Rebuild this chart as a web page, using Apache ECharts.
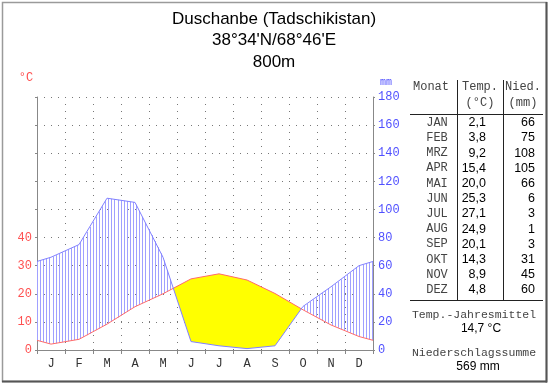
<!DOCTYPE html>
<html>
<head>
<meta charset="utf-8">
<script src="https://cdn.jsdelivr.net/npm/echarts@6/dist/echarts.min.js"></script>
<style>
html,body{margin:0;padding:0;background:#fff;}
#c{width:550px;height:384px;}
</style>
</head>
<body>
<div id="c"></div>
<script>
// ---- data ----
var titleLines = ['Duschanbe (Tadschikistan)', "38°34'N/68°46'E", '800m'];
var monthLetters = ['J','F','M','A','M','J','J','A','S','O','N','D'];
var monthNames = ['JAN','FEB','MRZ','APR','MAI','JUN','JUL','AUG','SEP','OKT','NOV','DEZ'];
var temp = [2.1, 3.8, 9.2, 15.4, 20.0, 25.3, 27.1, 24.9, 20.1, 14.3, 8.9, 4.8];
var precip = [66, 75, 108, 105, 66, 6, 3, 1, 3, 31, 45, 60];
var tempLabels = ['2,1','3,8','9,2','15,4','20,0','25,3','27,1','24,9','20,1','14,3','8,9','4,8'];
var meanTempText = '14,7 °C';
var sumPrecipText = '569 mm';

// ---- derived series: month centres plus year-wrap edge values ----
var tEdge = (temp[11] + temp[0]) / 2;
var pEdge = (precip[11] + precip[0]) / 2;
var tempPts = [[0, tEdge]];
var precPts = [[0, pEdge]];
for (var i = 0; i < 12; i++) {
  tempPts.push([i + 0.5, temp[i]]);
  precPts.push([i + 0.5, precip[i]]);
}
tempPts.push([12, tEdge]);
precPts.push([12, pEdge]);

var MONO = 'Liberation Mono';
var SANS = 'Liberation Sans';

function renderFill(params, api) {
  // temperature drawn on the mm axis with 10°C = 20mm (axes 0-90 / 0-180)
  var T = tempPts.map(function (p) { return api.coord([p[0], p[1] * 2]); });
  var P = precPts.map(function (p) { return api.coord([p[0], p[1]]); });
  var pts = [];
  for (var k = 0; k < T.length; k++) {
    pts.push({x: T[k][0], t: T[k][1], p: P[k][1]});
    if (k < T.length - 1) {
      var d0 = T[k][1] - P[k][1], d1 = T[k + 1][1] - P[k + 1][1];
      if (d0 * d1 < 0) {
        var f = d0 / (d0 - d1);
        var cx = T[k][0] + f * (T[k + 1][0] - T[k][0]);
        var cy = T[k][1] + f * (T[k + 1][1] - T[k][1]);
        pts.push({x: cx, t: cy, p: cy});
      }
    }
  }
  var children = [];
  var run = [];
  function flush() {
    if (run.length > 1) {
      var poly = run.map(function (q) { return [q.x, q.t]; });
      for (var j = run.length - 1; j >= 0; j--) poly.push([run[j].x, run[j].p]);
      children.push({type: 'polygon', shape: {points: poly}, style: {fill: '#ffff00', stroke: null}});
    }
    run = [];
  }
  for (var m = 0; m < pts.length; m++) {
    var q = pts[m];
    if (q.t <= q.p + 0.001) {
      run.push(q);
    } else {
      flush();
    }
  }
  flush();
  var x0 = T[0][0], x1 = T[T.length - 1][0];
  function interp(arr, x) {
    for (var s = 0; s < arr.length - 1; s++) {
      if (x >= arr[s][0] && x <= arr[s + 1][0]) {
        var f = (x - arr[s][0]) / (arr[s + 1][0] - arr[s][0] || 1);
        return arr[s][1] + f * (arr[s + 1][1] - arr[s][1]);
      }
    }
    return arr[arr.length - 1][1];
  }
  for (var x = x0; x <= x1 + 0.01; x += 3.1) {
    var yt = interp(T, x), yp = interp(P, x);
    if (yp < yt - 0.5) {
      var xx = Math.round(x) + 0.5;
      children.push({type: 'line', shape: {x1: xx, y1: yp, x2: xx, y2: yt},
        style: {stroke: '#a0a0ff', lineWidth: 1}});
    }
  }
  return {type: 'group', children: children};
}

var graphics = [
  {type: 'rect', shape: {x: 2.5, y: 2.5, width: 544, height: 379}, style: {fill: null, stroke: '#9a9a9a', lineWidth: 1.5}, silent: true},
  {type: 'line', shape: {x1: 546.5, y1: 2, x2: 546.5, y2: 382.5}, style: {stroke: '#555', lineWidth: 2}},
  {type: 'line', shape: {x1: 2, y1: 381.5, x2: 547, y2: 381.5}, style: {stroke: '#555', lineWidth: 2}},
  {type: 'text', x: 26, y: 78, style: {text: '°C', fill: '#ff5050', font: '12px ' + MONO, textAlign: 'center', textVerticalAlign: 'middle'}},
  {type: 'text', x: 386, y: 82, style: {text: 'mm', fill: '#5050ff', font: '10px ' + MONO, textAlign: 'center', textVerticalAlign: 'middle'}},
  {type: 'line', shape: {x1: 457.5, y1: 80, x2: 457.5, y2: 301}, style: {stroke: '#222', lineWidth: 1}},
  {type: 'line', shape: {x1: 503.5, y1: 80, x2: 503.5, y2: 301}, style: {stroke: '#222', lineWidth: 1}},
  {type: 'line', shape: {x1: 410, y1: 114.5, x2: 543, y2: 114.5}, style: {stroke: '#222', lineWidth: 1}},
  {type: 'line', shape: {x1: 410, y1: 300.5, x2: 543, y2: 300.5}, style: {stroke: '#222', lineWidth: 1}},
  {type: 'text', x: 431, y: 87, style: {text: 'Monat', fill: '#444', font: '12px ' + MONO, textAlign: 'center', textVerticalAlign: 'middle'}},
  {type: 'text', x: 480, y: 87, style: {text: 'Temp.', fill: '#444', font: '12px ' + MONO, textAlign: 'center', textVerticalAlign: 'middle'}},
  {type: 'text', x: 480, y: 103, style: {text: '(°C)', fill: '#444', font: '12px ' + MONO, textAlign: 'center', textVerticalAlign: 'middle'}},
  {type: 'text', x: 523, y: 87, style: {text: 'Nied.', fill: '#444', font: '12px ' + MONO, textAlign: 'center', textVerticalAlign: 'middle'}},
  {type: 'text', x: 523, y: 103, style: {text: '(mm)', fill: '#444', font: '12px ' + MONO, textAlign: 'center', textVerticalAlign: 'middle'}},
  {type: 'text', x: 474, y: 315, style: {text: 'Temp.-Jahresmittel', fill: '#444', font: '11.5px ' + MONO, textAlign: 'center', textVerticalAlign: 'middle'}},
  {type: 'text', x: 481, y: 329, style: {text: meanTempText, fill: '#000', font: '12px ' + SANS, textAlign: 'center', textVerticalAlign: 'middle'}},
  {type: 'text', x: 474, y: 353, style: {text: 'Niederschlagssumme', fill: '#444', font: '11.5px ' + MONO, textAlign: 'center', textVerticalAlign: 'middle'}},
  {type: 'text', x: 478, y: 367, style: {text: sumPrecipText, fill: '#000', font: '12px ' + SANS, textAlign: 'center', textVerticalAlign: 'middle'}}
];
titleLines.forEach(function (t, i) {
  graphics.push({type: 'text', x: 274, y: 19 + i * 21.7, style: {text: t, fill: '#000', font: '17px ' + SANS, textAlign: 'center', textVerticalAlign: 'middle'}});
});
for (var r = 0; r < 12; r++) {
  var yy = 122.7 + r * 15.2;
  graphics.push({type: 'text', x: 437, y: yy, style: {text: monthNames[r], fill: '#444', font: '12px ' + MONO, textAlign: 'center', textVerticalAlign: 'middle'}});
  graphics.push({type: 'text', x: 486, y: yy, style: {text: tempLabels[r], fill: '#000', font: '12.5px ' + SANS, textAlign: 'right', textVerticalAlign: 'middle'}});
  graphics.push({type: 'text', x: 535, y: yy, style: {text: String(precip[r]), fill: '#000', font: '12.5px ' + SANS, textAlign: 'right', textVerticalAlign: 'middle'}});
}

var dotted = {color: '#777', width: 1, type: [1, 6]};
var chart = echarts.init(document.getElementById('c'), null, {renderer: 'canvas'});
chart.setOption({
  backgroundColor: '#fff',
  animation: false,
  grid: {left: 37, right: 177, top: 97, bottom: 34, containLabel: false},
  xAxis: [
    {type: 'category', data: monthLetters, boundaryGap: true,
      axisLine: {show: true, lineStyle: {color: '#888'}},
      axisTick: {show: true, length: 4, lineStyle: {color: '#888'}},
      axisLabel: {color: '#333', fontFamily: MONO, fontSize: 12, margin: 8},
      splitLine: {show: true, lineStyle: dotted}},
    {type: 'value', min: 0, max: 12, show: false}
  ],
  yAxis: [
    {type: 'value', min: 0, max: 90, interval: 10, position: 'left',
      axisLine: {show: true, lineStyle: {color: '#888'}},
      axisTick: {show: true, length: 2, lineStyle: {color: '#888'}},
      axisLabel: {color: '#ff5050', fontFamily: MONO, fontSize: 12, margin: 5,
        formatter: function (v) { return v <= 40 ? String(v) : ''; }},
      splitLine: {show: false}},
    {type: 'value', min: 0, max: 180, interval: 20, position: 'right',
      axisLine: {show: true, lineStyle: {color: '#888'}},
      axisTick: {show: true, length: 2, lineStyle: {color: '#888'}},
      axisLabel: {color: '#5050ff', fontFamily: MONO, fontSize: 12, margin: 5},
      splitLine: {show: true, lineStyle: dotted}}
  ],
  series: [
    {type: 'custom', xAxisIndex: 1, yAxisIndex: 1, data: [[0, 0]], renderItem: renderFill, z: 1, silent: true},
    {type: 'line', xAxisIndex: 1, yAxisIndex: 0, data: tempPts, symbol: 'none', z: 3,
      lineStyle: {color: '#ff6a6a', width: 1}},
    {type: 'line', xAxisIndex: 1, yAxisIndex: 1, data: precPts, symbol: 'none', z: 3,
      lineStyle: {color: '#8080ff', width: 1}}
  ],
  graphic: graphics
});
</script>
</body>
</html>
